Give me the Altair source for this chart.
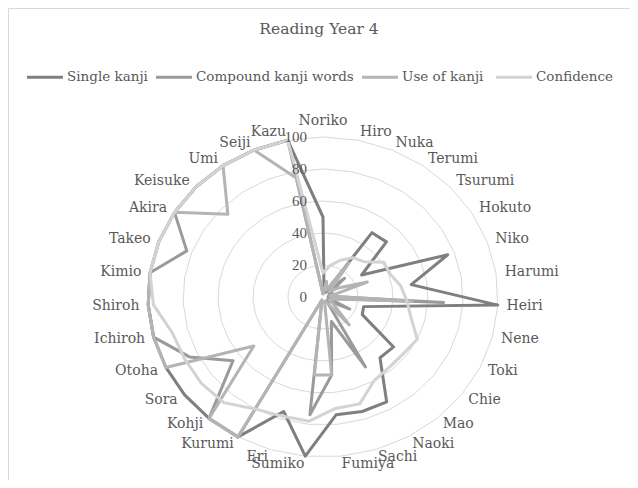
import altair as alt
import pandas as pd

CATEGORIES = ["Noriko", "Hiro", "Nuka", "Terumi", "Tsurumi", "Hokuto", "Niko", "Harumi",
              "Heiri", "Nene", "Toki", "Chie", "Mao", "Naoki", "Sachi", "Fumiya", "Sumiko",
              "Eri", "Kurumi", "Kohji", "Sora", "Otoha", "Ichiroh", "Shiroh", "Kimio",
              "Takeo", "Akira", "Keisuke", "Umi", "Seiji", "Kazu"]
SERIES = ["Single kanji", "Compound kanji words", "Use of  kanji", "Confidence"]
single_kanji = [50, 3, 3, 49, 50, 26, 76, 51, 100, 24, 25, 51, 50, 75, 75, 74, 100, 75,
                100, 100, 100, 100, 100, 100, 100, 100, 100, 100, 100, 100, 100]
compound_words = [2, 4, 3, 5, 17, 4, 6, 3, 69, 3, 17, 4, 3, 50, 16, 49, 74, 2,
                  100, 100, 65, 85, 100, 100, 100, 83, 100, 100, 100, 100, 100]
use_of_kanji = [2, 10, 5, 26, 5, 11, 27, 4, 51, 5, 4, 8, 23, 3, 3, 49, 49, 2,
                100, 100, 50, 100, 100, 100, 100, 100, 100, 75, 100, 100, 76]
confidence = [15, 20, 25, 30, 32, 41, 41, 45, 48, 52, 60, 58, 58, 60, 70, 70, 78, 78,
              80, 87, 88, 88, 89, 97, 100, 100, 100, 100, 100, 100, 100]
AXIS_TICKS = [0, 20, 40, 60, 80, 100]
GRID_LEVELS = [20, 40, 60, 80, 100]
COLORS = ["#7f7f7f", "#9a9a9a", "#b4b4b4", "#d3d3d3"]

N = len(CATEGORIES)
TEXT = "#595959"

rows = []
for s, vals in zip(SERIES, [single_kanji, compound_words, use_of_kanji, confidence]):
    for k in range(N + 1):
        rows.append({"series": s, "k": k, "value": vals[k % N]})
series_df = pd.DataFrame(rows)

grid_df = pd.DataFrame([{"level": lv, "k": k} for lv in GRID_LEVELS for k in range(N + 1)])
label_df = pd.DataFrame({"k": list(range(N)), "name": CATEGORIES})
tick_df = pd.DataFrame({"v": AXIS_TICKS, "lab": [str(t) for t in AXIS_TICKS]})

xs = alt.Scale(domain=[-180, 175.43], nice=False, zero=False)
ys = alt.Scale(domain=[-114.375, 180.625], nice=False, zero=False)
theta = f"2*PI*datum.k/{N}"

grid = alt.Chart(grid_df).transform_calculate(
    x=f"datum.level*sin({theta})", y=f"datum.level*cos({theta})"
).mark_line(color="#d9d9d9", strokeWidth=1).encode(
    x=alt.X("x:Q", scale=xs, axis=None),
    y=alt.Y("y:Q", scale=ys, axis=None),
    detail="level:N",
    order="k:Q",
)

legend = alt.Legend(
    orient="none", legendX=17, legendY=49, direction="horizontal", title=None,
    symbolType="stroke", symbolStrokeWidth=3, symbolSize=1300,
    labelFont="DejaVu Serif", labelFontSize=13.5, labelColor=TEXT, labelLimit=400,
    labelOffset=2, columnPadding=1,
)
cscale = alt.Scale(domain=SERIES, range=COLORS)

line_layers = []
for s in SERIES:
    line_layers.append(
        alt.Chart(series_df).transform_filter(alt.datum.series == s).transform_calculate(
            x=f"datum.value*sin({theta})", y=f"datum.value*cos({theta})"
        ).mark_line(strokeWidth=3, strokeJoin="round", strokeCap="round").encode(
            x=alt.X("x:Q", scale=xs, axis=None),
            y=alt.Y("y:Q", scale=ys, axis=None),
            order="k:Q",
            color=alt.Color("series:N", scale=cscale, legend=legend),
        )
    )

lab_base = alt.Chart(label_df).transform_calculate(
    r="datum.k == 0 ? 110 : 105"
).transform_calculate(
    x=f"datum.r*sin({theta})", y=f"datum.r*cos({theta})"
)
lab_kw = dict(font="DejaVu Serif", fontSize=14, color=TEXT, baseline="middle")
lab_enc = dict(x=alt.X("x:Q", scale=xs, axis=None), y=alt.Y("y:Q", scale=ys, axis=None), text="name:N")
lab_top = lab_base.transform_filter("datum.k == 0").mark_text(align="center", **lab_kw).encode(**lab_enc)
lab_right = lab_base.transform_filter(f"datum.k > 0 && datum.k <= {N // 2}").mark_text(align="left", **lab_kw).encode(**lab_enc)
lab_left = lab_base.transform_filter(f"datum.k > {N // 2}").mark_text(align="right", **lab_kw).encode(**lab_enc)

ticks = alt.Chart(tick_df).transform_calculate(x0="0").mark_text(
    align="right", baseline="middle", dx=-16, font="Liberation Serif", fontSize=15, color=TEXT
).encode(
    x=alt.X("x0:Q", scale=xs, axis=None),
    y=alt.Y("v:Q", scale=ys, axis=None),
    text="lab:N",
)

chart = alt.layer(grid, *line_layers, ticks, lab_top, lab_right, lab_left).properties(
    width=622, height=472, padding=0, autosize="none",
    title=alt.TitleParams("Reading Year 4", offset=-29, font="DejaVu Serif", fontSize=15.5,
                          fontWeight="normal", color=TEXT, anchor="middle"),
).configure_view(stroke="#d9d9d9", strokeWidth=1)

chart.save("out.html", embed_options={"renderer": "svg", "actions": False})
